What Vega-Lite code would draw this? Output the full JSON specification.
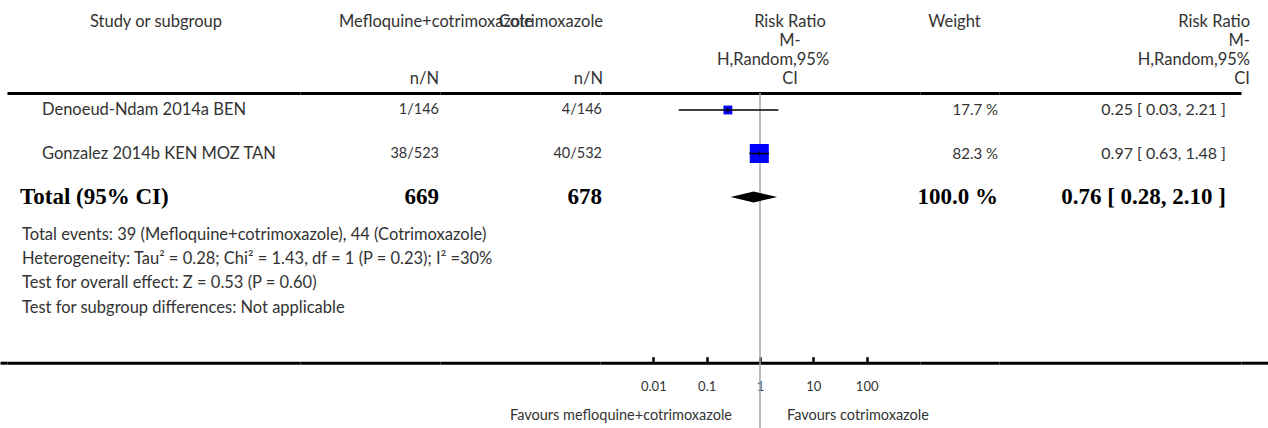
{
  "$schema": "https://vega.github.io/schema/vega-lite/v6.json",
  "padding": 0,
  "background": "white",
  "spacing": 0,
  "config": {
    "view": {"stroke": null},
    "text": {"font": "Lato", "fontSize": 16.5, "color": "#333"},
    "axis": {"grid": false}
  },
  "datasets": {
    "rows": [
      {"row": "r1", "study": "Denoeud-Ndam 2014a BEN", "n1": "1/146", "n2": "4/146", "rr": 0.25, "lo": 0.03, "hi": 2.21, "weight": 17.7, "weightText": "17.7 %", "rrText": "0.25 [ 0.03, 2.21 ]"},
      {"row": "r2", "study": "Gonzalez 2014b KEN MOZ TAN", "n1": "38/523", "n2": "40/532", "rr": 0.97, "lo": 0.63, "hi": 1.48, "weight": 82.3, "weightText": "82.3 %", "rrText": "0.97 [ 0.63, 1.48 ]"}
    ],
    "total": [
      {"row": "total", "study": "Total (95% CI)", "n1": "669", "n2": "678", "rr": 0.76, "lo": 0.28, "hi": 2.10, "weight": 100, "weightText": "100.0 %", "rrText": "0.76 [ 0.28, 2.10 ]"}
    ],
    "notes": [
      {"row": "foot", "text": "Total events: 39 (Mefloquine+cotrimoxazole), 44 (Cotrimoxazole)\nHeterogeneity: Tau² = 0.28; Chi² = 1.43, df = 1 (P = 0.23); I² =30%\nTest for overall effect: Z = 0.53 (P = 0.60)\nTest for subgroup differences: Not applicable"}
    ],
    "header": [
      {"col": "study", "line": "l1", "text": "Study or subgroup"},
      {"col": "n1", "line": "l1", "text": "Mefloquine+cotrimoxazole"},
      {"col": "n1", "line": "l4", "text": "n/N"},
      {"col": "n2", "line": "l1", "text": "Cotrimoxazole"},
      {"col": "n2", "line": "l4", "text": "n/N"},
      {"col": "plot", "line": "l1", "text": "Risk Ratio"},
      {"col": "plot", "line": "l2", "text": "M-"},
      {"col": "plot", "line": "l3", "text": "H,Random,95%"},
      {"col": "plot", "line": "l4", "text": "CI"},
      {"col": "weight", "line": "l1", "text": "Weight"},
      {"col": "rr", "line": "l1", "text": "Risk Ratio"},
      {"col": "rr", "line": "l2", "text": "M-"},
      {"col": "rr", "line": "l3", "text": "H,Random,95%"},
      {"col": "rr", "line": "l4", "text": "CI"}
    ],
    "favours": [
      {"side": "left", "text": "Favours mefloquine+cotrimoxazole"},
      {"side": "right", "text": "Favours cotrimoxazole"}
    ]
  },
  "vconcat": [
    {
      "spacing": 0,
      "bounds": "flush",
      "hconcat": [
        {
          "width": 300, "height": 92,
          "data": {"name": "header"},
          "transform": [{"filter": "datum.col === 'study'"}],
          "mark": {"type": "text", "align": "center", "baseline": "middle", "dx": 6},
          "encoding": {
            "x": {"datum": "study", "type": "nominal", "bandPosition": 0.5, "scale": {"type": "band", "paddingInner": 0, "paddingOuter": 0}, "axis": null},
            "y": {"field": "line", "type": "nominal", "scale": {"type": "point", "domain": ["l1", "l2", "l3", "l4"], "range": [22, 79], "padding": 0}, "axis": null},
            "text": {"field": "text"}
          }
        },
        {
          "width": 140, "height": 92,
          "data": {"name": "header"},
          "transform": [{"filter": "datum.col === 'n1'"}],
          "layer": [
            {
              "transform": [{"filter": "datum.line === 'l1'"}],
              "mark": {"type": "text", "align": "left", "baseline": "middle", "dx": 39},
              "encoding": {
                "x": {"datum": "n1", "type": "nominal", "bandPosition": 0, "scale": {"type": "band", "paddingInner": 0, "paddingOuter": 0}, "axis": null},
                "y": {"field": "line", "type": "nominal", "scale": {"type": "point", "domain": ["l1", "l2", "l3", "l4"], "range": [22, 79], "padding": 0}, "axis": null},
                "text": {"field": "text"}
              }
            },
            {
              "transform": [{"filter": "datum.line === 'l4'"}],
              "mark": {"type": "text", "align": "right", "baseline": "middle", "dx": -1},
              "encoding": {
                "x": {"datum": "n1", "type": "nominal", "bandPosition": 1, "scale": {"type": "band", "paddingInner": 0, "paddingOuter": 0}, "axis": null},
                "y": {"field": "line", "type": "nominal", "scale": {"type": "point", "domain": ["l1", "l2", "l3", "l4"], "range": [22, 79], "padding": 0}, "axis": null},
                "text": {"field": "text"}
              }
            }
          ]
        },
        {
          "width": 160, "height": 92,
          "data": {"name": "header"},
          "transform": [{"filter": "datum.col === 'n2'"}],
          "mark": {"type": "text", "align": "right", "baseline": "middle", "dx": 3},
          "encoding": {
            "x": {"datum": "n2", "type": "nominal", "bandPosition": 1, "scale": {"type": "band", "paddingInner": 0, "paddingOuter": 0}, "axis": null},
            "y": {"field": "line", "type": "nominal", "scale": {"type": "point", "domain": ["l1", "l2", "l3", "l4"], "range": [22, 79], "padding": 0}, "axis": null},
            "text": {"field": "text"}
          }
        },
        {
          "width": 320, "height": 92,
          "data": {"name": "header"},
          "transform": [{"filter": "datum.col === 'plot'"}],
          "layer": [
            {
              "transform": [{"filter": "datum.line !== 'l3'"}],
              "mark": {"type": "text", "align": "center", "baseline": "middle", "dx": 30},
              "encoding": {
                "x": {"datum": "plot", "type": "nominal", "bandPosition": 0.5, "scale": {"type": "band", "paddingInner": 0, "paddingOuter": 0}, "axis": null},
                "y": {"field": "line", "type": "nominal", "scale": {"type": "point", "domain": ["l1", "l2", "l3", "l4"], "range": [22, 79], "padding": 0}, "axis": null},
                "text": {"field": "text"}
              }
            },
            {
              "transform": [{"filter": "datum.line === 'l3'"}],
              "mark": {"type": "text", "align": "center", "baseline": "middle", "dx": 13},
              "encoding": {
                "x": {"datum": "plot", "type": "nominal", "bandPosition": 0.5, "scale": {"type": "band", "paddingInner": 0, "paddingOuter": 0}, "axis": null},
                "y": {"field": "line", "type": "nominal", "scale": {"type": "point", "domain": ["l1", "l2", "l3", "l4"], "range": [22, 79], "padding": 0}, "axis": null},
                "text": {"field": "text"}
              }
            }
          ]
        },
        {
          "width": 79, "height": 92,
          "data": {"name": "header"},
          "transform": [{"filter": "datum.col === 'weight'"}],
          "mark": {"type": "text", "align": "center", "baseline": "middle", "dx": -5},
          "encoding": {
            "x": {"datum": "weight", "type": "nominal", "bandPosition": 0.5, "scale": {"type": "band", "paddingInner": 0, "paddingOuter": 0}, "axis": null},
            "y": {"field": "line", "type": "nominal", "scale": {"type": "point", "domain": ["l1", "l2", "l3", "l4"], "range": [22, 79], "padding": 0}, "axis": null},
            "text": {"field": "text"}
          }
        },
        {
          "width": 269, "height": 92,
          "data": {"name": "header"},
          "transform": [{"filter": "datum.col === 'rr'"}],
          "mark": {"type": "text", "align": "right", "baseline": "middle", "dx": -18},
          "encoding": {
            "x": {"datum": "rr", "type": "nominal", "bandPosition": 1, "scale": {"type": "band", "paddingInner": 0, "paddingOuter": 0}, "axis": null},
            "y": {"field": "line", "type": "nominal", "scale": {"type": "point", "domain": ["l1", "l2", "l3", "l4"], "range": [22, 79], "padding": 0}, "axis": null},
            "text": {"field": "text"}
          }
        }
      ]
    },
    {
      "spacing": 0,
      "bounds": "flush",
      "hconcat": [
        {
          "width": 7, "height": 335,
          "data": {"values": [{}]},
          "mark": {"type": "text", "text": ""},
          "encoding": {
            "x": {"datum": "edge", "type": "nominal", "scale": {"type": "band", "paddingInner": 0, "paddingOuter": 0}, "axis": {"orient": "bottom", "offset": -65.3, "domain": true, "domainColor": "#000", "domainWidth": 3, "ticks": false, "labels": false, "title": null}}
          }
        },
        {
          "width": 293, "height": 335,
          "resolve": {"axis": {"x": "independent"}},
          "layer": [
            {
              "data": {"name": "rows"},
              "mark": {"type": "text", "align": "left", "baseline": "middle", "dx": 35},
              "encoding": {
                "x": {"datum": "study", "type": "nominal", "bandPosition": 0, "scale": {"type": "band", "paddingInner": 0, "paddingOuter": 0}, "axis": {"orient": "bottom", "offset": -65.3, "domain": true, "domainColor": "#000", "domainWidth": 3, "ticks": false, "labels": false, "title": null}},
                "y": {"field": "row", "type": "nominal", "scale": {"type": "point", "domain": ["r1", "r2", "total", "foot"], "range": [17, 147.5], "padding": 0}, "axis": null},
                "text": {"field": "study"}
              }
            },
            {
              "data": {"name": "total"},
              "mark": {"type": "text", "align": "left", "baseline": "middle", "dx": 13, "font": "Liberation Serif", "fontWeight": "bold", "fontSize": 23, "color": "#000"},
              "encoding": {
                "x": {"datum": "study", "type": "nominal", "bandPosition": 0, "scale": {"type": "band", "paddingInner": 0, "paddingOuter": 0}, "axis": {"orient": "top", "offset": 0, "domain": true, "domainColor": "#000", "domainWidth": 3, "ticks": false, "labels": false, "title": null}},
                "y": {"field": "row", "type": "nominal", "scale": {"type": "point", "domain": ["r1", "r2", "total", "foot"], "range": [17, 147.5], "padding": 0}, "axis": null},
                "text": {"field": "study"}
              }
            },
            {
              "data": {"name": "notes"},
              "mark": {"type": "text", "align": "left", "baseline": "top", "dx": 15, "dy": -13.7, "lineBreak": "\n", "lineHeight": 24.3},
              "encoding": {
                "x": {"datum": "study", "type": "nominal", "bandPosition": 0, "scale": {"type": "band", "paddingInner": 0, "paddingOuter": 0}, "axis": null},
                "y": {"field": "row", "type": "nominal", "scale": {"type": "point", "domain": ["r1", "r2", "total", "foot"], "range": [17, 147.5], "padding": 0}, "axis": null},
                "text": {"field": "text"}
              }
            }
          ]
        },
        {
          "width": 140, "height": 335,
          "resolve": {"axis": {"x": "independent"}},
          "layer": [
            {
              "data": {"name": "rows"},
              "mark": {"type": "text", "align": "right", "baseline": "middle", "dx": -1, "fontSize": 14.5},
              "encoding": {
                "x": {"datum": "n1", "type": "nominal", "bandPosition": 1, "scale": {"type": "band", "paddingInner": 0, "paddingOuter": 0}, "axis": {"orient": "bottom", "offset": -65.3, "domain": true, "domainColor": "#000", "domainWidth": 3, "ticks": false, "labels": false, "title": null}},
                "y": {"field": "row", "type": "nominal", "scale": {"type": "point", "domain": ["r1", "r2", "total", "foot"], "range": [17, 147.5], "padding": 0}, "axis": null},
                "text": {"field": "n1"}
              }
            },
            {
              "data": {"name": "total"},
              "mark": {"type": "text", "align": "right", "baseline": "middle", "dx": -1, "font": "Liberation Serif", "fontWeight": "bold", "fontSize": 23, "color": "#000"},
              "encoding": {
                "x": {"datum": "n1", "type": "nominal", "bandPosition": 1, "scale": {"type": "band", "paddingInner": 0, "paddingOuter": 0}, "axis": {"orient": "top", "offset": 0, "domain": true, "domainColor": "#000", "domainWidth": 3, "ticks": false, "labels": false, "title": null}},
                "y": {"field": "row", "type": "nominal", "scale": {"type": "point", "domain": ["r1", "r2", "total", "foot"], "range": [17, 147.5], "padding": 0}, "axis": null},
                "text": {"field": "n1"}
              }
            }
          ]
        },
        {
          "width": 160, "height": 335,
          "resolve": {"axis": {"x": "independent"}},
          "layer": [
            {
              "data": {"name": "rows"},
              "mark": {"type": "text", "align": "right", "baseline": "middle", "dx": 2, "fontSize": 14.5},
              "encoding": {
                "x": {"datum": "n2", "type": "nominal", "bandPosition": 1, "scale": {"type": "band", "paddingInner": 0, "paddingOuter": 0}, "axis": {"orient": "bottom", "offset": -65.3, "domain": true, "domainColor": "#000", "domainWidth": 3, "ticks": false, "labels": false, "title": null}},
                "y": {"field": "row", "type": "nominal", "scale": {"type": "point", "domain": ["r1", "r2", "total", "foot"], "range": [17, 147.5], "padding": 0}, "axis": null},
                "text": {"field": "n2"}
              }
            },
            {
              "data": {"name": "total"},
              "mark": {"type": "text", "align": "right", "baseline": "middle", "dx": 2, "font": "Liberation Serif", "fontWeight": "bold", "fontSize": 23, "color": "#000"},
              "encoding": {
                "x": {"datum": "n2", "type": "nominal", "bandPosition": 1, "scale": {"type": "band", "paddingInner": 0, "paddingOuter": 0}, "axis": {"orient": "top", "offset": 0, "domain": true, "domainColor": "#000", "domainWidth": 3, "ticks": false, "labels": false, "title": null}},
                "y": {"field": "row", "type": "nominal", "scale": {"type": "point", "domain": ["r1", "r2", "total", "foot"], "range": [17, 147.5], "padding": 0}, "axis": null},
                "text": {"field": "n2"}
              }
            }
          ]
        },
        {
          "width": 320, "height": 335,
          "resolve": {"axis": {"x": "independent"}},
          "layer": [
            {
              "data": {"values": [{}]},
              "mark": {"type": "rule", "color": "#a6a6a6", "strokeWidth": 1.5},
              "encoding": {
                "x": {"datum": 1, "type": "quantitative", "scale": {"type": "log", "domain": [0.001, 1000], "nice": false},
                  "axis": {"orient": "bottom", "offset": -65.3, "values": [0.01, 0.1, 1, 10, 100], "format": "~g", "domain": true, "domainColor": "#000", "domainWidth": 3, "ticks": true, "tickColor": "#000", "tickWidth": 2.5, "tickSize": -6, "labels": true, "labelFont": "Lato", "labelFontSize": 13, "labelColor": "#333", "labelPadding": 24, "labelOverlap": false, "labelFlush": false, "title": null}}
              }
            },
            {
              "data": {"name": "rows"},
              "mark": {"type": "point", "shape": "square", "filled": true, "color": "#0000ff", "opacity": 1},
              "encoding": {
                "x": {"field": "rr", "type": "quantitative", "scale": {"type": "log", "domain": [0.001, 1000], "nice": false},
                  "axis": {"orient": "top", "offset": 0, "domain": true, "domainColor": "#000", "domainWidth": 3, "ticks": false, "labels": false, "title": null}},
                "y": {"field": "row", "type": "nominal", "scale": {"type": "point", "domain": ["r1", "r2", "total", "foot"], "range": [17, 147.5], "padding": 0}, "axis": null},
                "size": {"field": "weight", "type": "quantitative", "scale": {"domain": [0, 100], "range": [0, 440]}, "legend": null}
              }
            },
            {
              "data": {"name": "rows"},
              "mark": {"type": "rule", "color": "#000", "strokeWidth": 1.5},
              "encoding": {
                "x": {"field": "lo", "type": "quantitative", "scale": {"type": "log", "domain": [0.001, 1000], "nice": false}, "axis": null},
                "x2": {"field": "hi"},
                "y": {"field": "row", "type": "nominal", "scale": {"type": "point", "domain": ["r1", "r2", "total", "foot"], "range": [17, 147.5], "padding": 0}, "axis": null}
              }
            },
            {
              "data": {"name": "rows"},
              "mark": {"type": "tick", "orient": "vertical", "size": 5, "thickness": 1, "color": "#000", "opacity": 1},
              "encoding": {
                "x": {"field": "rr", "type": "quantitative", "scale": {"type": "log", "domain": [0.001, 1000], "nice": false}, "axis": null},
                "y": {"field": "row", "type": "nominal", "scale": {"type": "point", "domain": ["r1", "r2", "total", "foot"], "range": [17, 147.5], "padding": 0}, "axis": null}
              }
            },
            {
              "data": {"name": "total"},
              "mark": {"type": "point", "shape": "M -0.96 0 L 0 -0.23 L 0.98 0 L 0 0.23 Z", "size": 2304, "filled": true, "color": "#000", "opacity": 1},
              "encoding": {
                "x": {"field": "rr", "type": "quantitative", "scale": {"type": "log", "domain": [0.001, 1000], "nice": false}, "axis": null},
                "y": {"field": "row", "type": "nominal", "scale": {"type": "point", "domain": ["r1", "r2", "total", "foot"], "range": [17, 147.5], "padding": 0}, "axis": null}
              }
            },
            {
              "data": {"name": "favours"},
              "transform": [{"filter": "datum.side === 'left'"}],
              "mark": {"type": "text", "align": "right", "baseline": "bottom", "dx": -28, "dy": -5, "fontSize": 14.5},
              "encoding": {
                "x": {"datum": 1, "type": "quantitative", "scale": {"type": "log", "domain": [0.001, 1000], "nice": false}, "axis": null},
                "y": {"value": "height"},
                "text": {"field": "text"}
              }
            },
            {
              "data": {"name": "favours"},
              "transform": [{"filter": "datum.side === 'right'"}],
              "mark": {"type": "text", "align": "left", "baseline": "bottom", "dx": 27, "dy": -5, "fontSize": 14.5},
              "encoding": {
                "x": {"datum": 1, "type": "quantitative", "scale": {"type": "log", "domain": [0.001, 1000], "nice": false}, "axis": null},
                "y": {"value": "height"},
                "text": {"field": "text"}
              }
            }
          ]
        },
        {
          "width": 79, "height": 335,
          "resolve": {"axis": {"x": "independent"}},
          "layer": [
            {
              "data": {"name": "rows"},
              "mark": {"type": "text", "align": "right", "baseline": "middle", "dx": -1, "fontSize": 15},
              "encoding": {
                "x": {"datum": "weight", "type": "nominal", "bandPosition": 1, "scale": {"type": "band", "paddingInner": 0, "paddingOuter": 0}, "axis": {"orient": "bottom", "offset": -65.3, "domain": true, "domainColor": "#000", "domainWidth": 3, "ticks": false, "labels": false, "title": null}},
                "y": {"field": "row", "type": "nominal", "scale": {"type": "point", "domain": ["r1", "r2", "total", "foot"], "range": [17, 147.5], "padding": 0}, "axis": null},
                "text": {"field": "weightText"}
              }
            },
            {
              "data": {"name": "total"},
              "mark": {"type": "text", "align": "right", "baseline": "middle", "dx": -1, "font": "Liberation Serif", "fontWeight": "bold", "fontSize": 23, "color": "#000"},
              "encoding": {
                "x": {"datum": "weight", "type": "nominal", "bandPosition": 1, "scale": {"type": "band", "paddingInner": 0, "paddingOuter": 0}, "axis": {"orient": "top", "offset": 0, "domain": true, "domainColor": "#000", "domainWidth": 3, "ticks": false, "labels": false, "title": null}},
                "y": {"field": "row", "type": "nominal", "scale": {"type": "point", "domain": ["r1", "r2", "total", "foot"], "range": [17, 147.5], "padding": 0}, "axis": null},
                "text": {"field": "weightText"}
              }
            }
          ]
        },
        {
          "width": 242, "height": 335,
          "resolve": {"axis": {"x": "independent"}},
          "layer": [
            {
              "data": {"name": "rows"},
              "mark": {"type": "text", "align": "right", "baseline": "middle", "dx": -15, "fontSize": 16},
              "encoding": {
                "x": {"datum": "rr", "type": "nominal", "bandPosition": 1, "scale": {"type": "band", "paddingInner": 0, "paddingOuter": 0}, "axis": {"orient": "bottom", "offset": -65.3, "domain": true, "domainColor": "#000", "domainWidth": 3, "ticks": false, "labels": false, "title": null}},
                "y": {"field": "row", "type": "nominal", "scale": {"type": "point", "domain": ["r1", "r2", "total", "foot"], "range": [17, 147.5], "padding": 0}, "axis": null},
                "text": {"field": "rrText"}
              }
            },
            {
              "data": {"name": "total"},
              "mark": {"type": "text", "align": "right", "baseline": "middle", "dx": -15, "font": "Liberation Serif", "fontWeight": "bold", "fontSize": 23, "color": "#000"},
              "encoding": {
                "x": {"datum": "rr", "type": "nominal", "bandPosition": 1, "scale": {"type": "band", "paddingInner": 0, "paddingOuter": 0}, "axis": {"orient": "top", "offset": 0, "domain": true, "domainColor": "#000", "domainWidth": 3, "ticks": false, "labels": false, "title": null}},
                "y": {"field": "row", "type": "nominal", "scale": {"type": "point", "domain": ["r1", "r2", "total", "foot"], "range": [17, 147.5], "padding": 0}, "axis": null},
                "text": {"field": "rrText"}
              }
            }
          ]
        },
        {
          "width": 27, "height": 335,
          "data": {"values": [{}]},
          "mark": {"type": "text", "text": ""},
          "encoding": {
            "x": {"datum": "edge", "type": "nominal", "scale": {"type": "band", "paddingInner": 0, "paddingOuter": 0}, "axis": {"orient": "bottom", "offset": -65.3, "domain": true, "domainColor": "#000", "domainWidth": 3, "ticks": false, "labels": false, "title": null}}
          }
        }
      ]
    }
  ]
}
